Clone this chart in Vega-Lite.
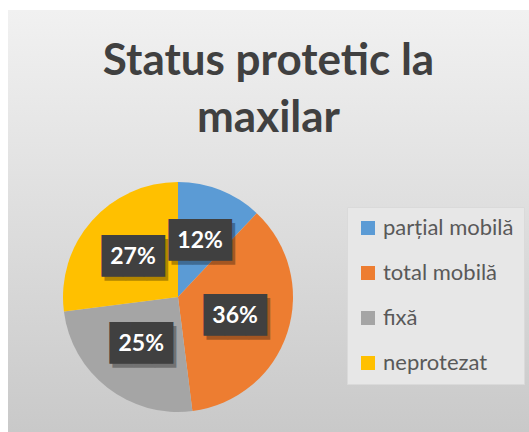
{
  "$schema": "https://vega.github.io/schema/vega-lite/v6.json",
  "background": "white",
  "padding": {"left": 8, "top": 10, "right": 0, "bottom": 0},
  "config": {"view": {"stroke": null}, "font": "Lato"},
  "datasets": {
    "slices": [
      {"category": "parțial mobilă", "value": 12, "rank": 1, "label": "12%"},
      {"category": "total mobilă", "value": 36, "rank": 2, "label": "36%"},
      {"category": "fixă", "value": 25, "rank": 3, "label": "25%"},
      {"category": "neprotezat", "value": 27, "rank": 4, "label": "27%"}
    ],
    "single": [{"chart": "Status protetic la maxilar"}]
  },
  "spacing": 0,
  "bounds": "flush",
  "vconcat": [
    {
      "width": 521,
      "height": 152,
      "data": {"name": "single"},
      "layer": [
        {
          "mark": {"type": "rect", "fill": {"gradient": "linear", "x1": 0, "y1": 0, "x2": 0, "y2": 1, "stops": [{"offset": 0, "color": "#f1f1f1"}, {"offset": 1, "color": "#e3e3e3"}]}},
          "encoding": {}
        },
        {
          "mark": {"type": "text", "text": ["Status protetic la", "maxilar"], "font": "Lato", "fontWeight": "bold", "fontSize": 44, "lineHeight": 57, "fill": "#404040", "baseline": "middle", "align": "center", "dy": -24},
          "encoding": {}
        }
      ]
    },
    {
      "spacing": 0,
      "bounds": "flush",
      "resolve": {"scale": {"color": "independent"}, "legend": {"color": "independent"}},
      "hconcat": [
        {
          "width": 340,
          "height": 270,
          "layer": [
            {
              "data": {"name": "single"},
              "mark": {"type": "rect", "fill": {"gradient": "linear", "x1": 0, "y1": 0, "x2": 0, "y2": 1, "stops": [{"offset": 0, "color": "#e3e3e3"}, {"offset": 1, "color": "#c9c9c9"}]}},
              "encoding": {}
            },
            {
              "data": {"name": "slices"},
              "mark": {"type": "arc", "outerRadius": 115},
              "encoding": {
                "theta": {"field": "value", "type": "quantitative", "stack": true},
                "order": {"field": "rank", "type": "quantitative"},
                "color": {"field": "category", "type": "nominal", "scale": {"domain": ["parțial mobilă", "total mobilă", "fixă", "neprotezat"], "range": ["#5B9BD5", "#ED7D31", "#A5A5A5", "#FFC000"]}, "legend": null}
              }
            },
            {
              "data": {"name": "slices"},
              "mark": {"type": "text", "text": "███", "font": "DejaVu Sans Mono", "fontSize": 35, "radius": 60, "fill": "#000000", "opacity": 0.3, "dx": 3, "dy": 4, "baseline": "middle", "align": "center"},
              "encoding": {
                "theta": {"field": "value", "type": "quantitative", "stack": true},
                "order": {"field": "rank", "type": "quantitative"}
              }
            },
            {
              "data": {"name": "slices"},
              "mark": {"type": "text", "text": "███", "font": "DejaVu Sans Mono", "fontSize": 35, "radius": 60, "fill": "#404040", "baseline": "middle", "align": "center"},
              "encoding": {
                "theta": {"field": "value", "type": "quantitative", "stack": true},
                "order": {"field": "rank", "type": "quantitative"}
              }
            },
            {
              "data": {"name": "slices"},
              "mark": {"type": "text", "font": "Lato", "fontWeight": "bold", "fontSize": 23, "radius": 60, "fill": "#ffffff", "baseline": "middle", "align": "center"},
              "encoding": {
                "theta": {"field": "value", "type": "quantitative", "stack": true},
                "order": {"field": "rank", "type": "quantitative"},
                "text": {"field": "label", "type": "nominal"}
              }
            }
          ]
        },
        {
          "width": 181,
          "height": 270,
          "layer": [
            {
              "data": {"name": "single"},
              "mark": {"type": "rect", "fill": {"gradient": "linear", "x1": 0, "y1": 0, "x2": 0, "y2": 1, "stops": [{"offset": 0, "color": "#e3e3e3"}, {"offset": 1, "color": "#c9c9c9"}]}},
              "encoding": {}
            },
            {
              "data": {"name": "slices"},
              "mark": {"type": "square", "opacity": 0},
              "encoding": {
                "color": {"field": "category", "type": "nominal", "scale": {"domain": ["parțial mobilă", "total mobilă", "fixă", "neprotezat"], "range": ["#5B9BD5", "#ED7D31", "#A5A5A5", "#FFC000"]},
                  "legend": {"title": null, "orient": "none", "legendX": -1, "legendY": 45, "fillColor": "#e7e7e7", "strokeColor": "#dadada", "padding": 10, "labelFont": "Lato", "labelFontSize": 22, "labelColor": "#595959", "symbolType": "square", "symbolSize": 196, "symbolStrokeWidth": 0, "symbolOpacity": 1, "rowPadding": 23, "labelOffset": 4, "labelLimit": 220}}
              }
            }
          ]
        }
      ]
    }
  ]
}
